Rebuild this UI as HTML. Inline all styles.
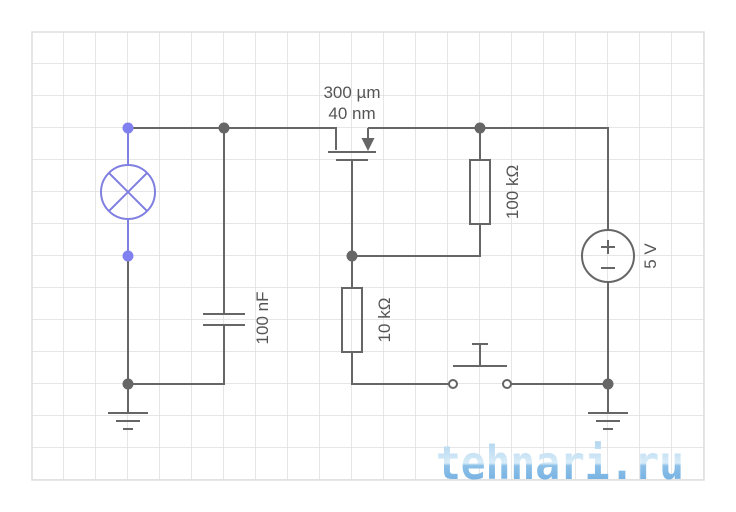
<!DOCTYPE html>
<html><head><meta charset="utf-8"><style>
html,body{margin:0;padding:0;background:#fff;}
svg{display:block;font-family:"Liberation Sans",sans-serif;}
</style></head><body>
<svg width="736" height="512" viewBox="0 0 736 512" xmlns="http://www.w3.org/2000/svg">
<defs>
<pattern id="g" x="0" y="0" width="32" height="32" patternUnits="userSpaceOnUse">
<path d="M32 0V32M0 32H32" stroke="#dedede" stroke-width="1.5" fill="none"/>
</pattern>
<linearGradient id="wm" x1="0" y1="0" x2="0" y2="1">
<stop offset="0" stop-color="#a8d0ee"/><stop offset="0.5" stop-color="#d8ecf8"/><stop offset="0.55" stop-color="#8cc0e8"/><stop offset="1" stop-color="#6aaae0"/>
</linearGradient>
</defs>
<rect x="32" y="32" width="672" height="448" fill="url(#g)"/>
<path d="M32 32H704V480H32Z" fill="none" stroke="#dedede" stroke-width="1.5"/>
<g stroke="#666" stroke-width="2" fill="none">
<path d="M128 128H336V150M328 152H376M336 160H368M368 128V140M368 128H608V230M608 282V384"/>
<path d="M352 160V256H480V224M480 128V160M352 256V288M352 352V384H449"/>
<rect x="470" y="160" width="20" height="64"/>
<rect x="342" y="288" width="20" height="64"/>
<path d="M511 384H608M608 384V412M588 413H628M596 421H620M603 429H613"/>
<path d="M453 366H507M480 366V344M472 344H488"/>
<path d="M224 128V313M203 314H245M203 325H245M224 325V384H128M128 256V412M108 413H148M116 421H140M123 429H133"/>
<circle cx="608" cy="256" r="26"/>
<path d="M608 240V254M601 247H615M601 268H615"/>
</g>
<path d="M361.5 138H374.5L368 151Z" fill="#666"/>
<circle cx="453" cy="384" r="4" fill="#fff" stroke="#666" stroke-width="2"/>
<circle cx="507" cy="384" r="4" fill="#fff" stroke="#666" stroke-width="2"/>
<g fill="#666">
<circle cx="224" cy="128" r="5.5"/><circle cx="480" cy="128" r="5.5"/><circle cx="352" cy="256" r="5.5"/>
<circle cx="608" cy="384" r="5.5"/><circle cx="128" cy="384" r="5.5"/>
</g>
<g stroke="#8080e0" stroke-width="2" fill="none">
<path d="M128 128V165M128 219V256"/>
<circle cx="128" cy="192" r="27"/>
<path d="M109 173L147 211M147 173L109 211"/>
</g>
<circle cx="128" cy="128" r="5.5" fill="#8080f0"/>
<circle cx="128" cy="256" r="5.5" fill="#8080f0"/>
<g fill="#555" font-size="17">
<text x="352" y="98" text-anchor="middle">300 µm</text>
<text x="352" y="119" text-anchor="middle">40 nm</text>
<text transform="translate(268,318) rotate(-90)" text-anchor="middle">100 nF</text>
<text transform="translate(390,320) rotate(-90)" text-anchor="middle">10 kΩ</text>
<text transform="translate(518,192) rotate(-90)" text-anchor="middle">100 kΩ</text>
<text transform="translate(656,256) rotate(-90)" text-anchor="middle">5 V</text>
</g>
<text x="436" y="479" font-size="46" font-weight="bold" fill="url(#wm)" font-family="'DejaVu Sans Mono','Liberation Mono',monospace" textLength="248" lengthAdjust="spacingAndGlyphs">tehnari.ru</text>
</svg>
</body></html>
